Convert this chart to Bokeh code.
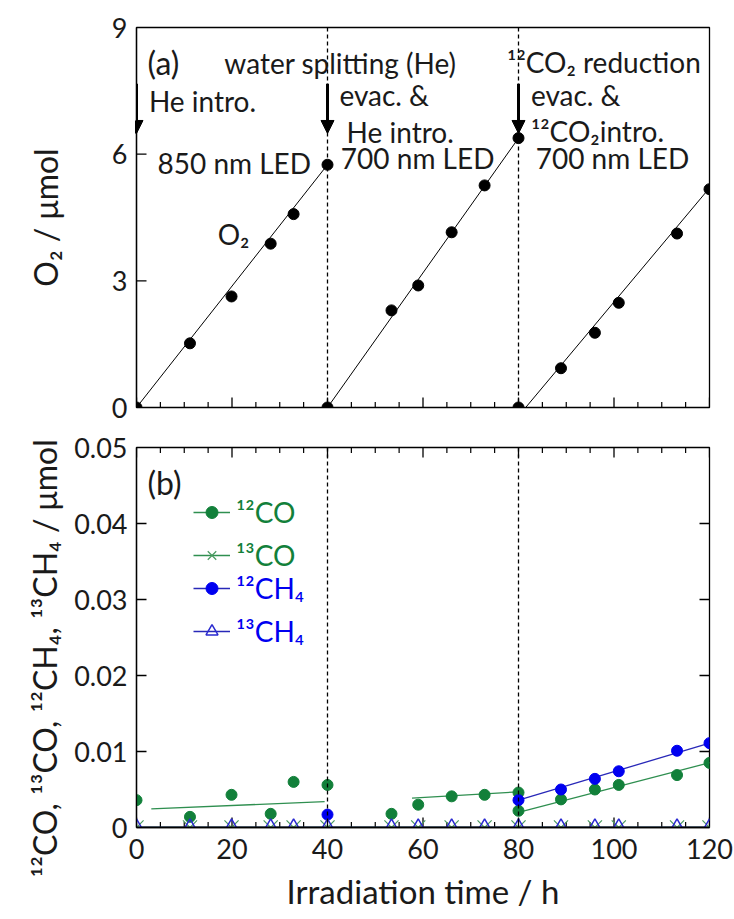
import math
from bokeh.plotting import figure
from bokeh.layouts import column
from bokeh.models import (Range1d, Span, Arrow, NormalHead, Label, Legend,
                          LegendItem, FixedTicker, Title)
from bokeh.embed import file_html
from bokeh.resources import INLINE

FONT = "Lato"
TXT = "#1a1a1a"
GREEN = "#12803a"
GREEN_LINE = "#2f8f50"
GREEN_LIGHT = "#4a9a60"
BLUE = "#0000f0"
BLUE_LINE = "#2828b8"
BLUE_TRI = "#2a2ad0"

# ---------------- data ----------------
# (a) O2 evolution, three runs
o2_time_1 = [0.0, 11.2, 19.9, 28.1, 32.9, 40.0]
o2_vals_1 = [0.0, 1.52, 2.63, 3.88, 4.58, 5.75]
o2_time_2 = [40.0, 53.4, 59.0, 66.0, 72.9, 80.0]
o2_vals_2 = [0.0, 2.30, 2.89, 4.15, 5.26, 6.38]
o2_time_3 = [80.0, 88.9, 96.0, 101.0, 113.2, 120.0]
o2_vals_3 = [0.0, 0.93, 1.77, 2.48, 4.12, 5.17]
o2_fit_time = [[0.0, 40.0], [40.0, 80.0], [81.5, 120.0]]
o2_fit_vals = [[0.0, 5.75], [0.0, 6.38], [0.0, 5.20]]

event_times = [0.0, 40.0, 80.0]
divider_times = [40.0, 80.0]

# (b) products
sample_times = [0.0, 11.2, 19.9, 28.1, 32.9, 40.0, 53.4, 59.0, 66.0, 72.9,
                80.0, 88.9, 96.0, 101.0, 113.2, 120.0]
co12_time = [0.0, 11.2, 19.9, 28.1, 32.9, 40.0, 53.4, 59.0, 66.0, 72.9,
             80.0, 80.0, 88.9, 96.0, 101.0, 113.2, 120.0]
co12_vals = [0.0036, 0.0014, 0.0043, 0.0018, 0.0060, 0.0056, 0.0018, 0.0030,
             0.0041, 0.0043, 0.0046, 0.0022, 0.0037, 0.0050, 0.0056, 0.0069,
             0.0085]
co13_vals = [0.0, 0.0, 0.0, 0.0, 0.0, 0.0, 0.0, 0.0, 0.0, 0.0, 0.0, 0.0, 0.0,
             0.0, 0.0, 0.0]
ch4_12_time = [40.0, 80.0, 88.9, 96.0, 101.0, 113.2, 120.0]
ch4_12_vals = [0.0017, 0.0036, 0.0050, 0.0064, 0.0074, 0.0101, 0.0111]
ch4_13_vals = [0.0, 0.0, 0.0, 0.0, 0.0, 0.0, 0.0, 0.0, 0.0, 0.0, 0.0, 0.0,
               0.0, 0.0, 0.0, 0.0]
co12_fit_time = [[3.1, 39.4], [57.7, 80.0], [80.0, 121.7]]
co12_fit_vals = [[0.00246, 0.0034], [0.00386, 0.0047], [0.0020, 0.0088]]
ch4_12_fit_time = [80.0, 120.0]
ch4_12_fit_vals = [0.0036, 0.0111]

x_ticks = [0, 20, 40, 60, 80, 100, 120]
x_minor_ticks = [5, 10, 15, 25, 30, 35, 45, 50, 55, 65, 70, 75, 85, 90, 95,
                 105, 110, 115]
o2_ticks = [0, 3, 6, 9]
prod_ticks = [0, 0.01, 0.02, 0.03, 0.04, 0.05]
prod_tick_labels = ["0", "0.01", "0.02", "0.03", "0.04", "0.05"]

X0, X1 = 0, 120


def style_axis(ax, ticks):
    ax.ticker = FixedTicker(ticks=ticks, minor_ticks=[])
    ax.axis_line_color = "black"
    ax.axis_line_width = 1.3
    ax.major_tick_line_color = None
    ax.minor_tick_line_color = None
    ax.major_tick_in = 0
    ax.major_tick_out = 0
    ax.minor_tick_in = 0
    ax.minor_tick_out = 0
    ax.major_label_text_font = FONT
    ax.major_label_text_color = TXT
    ax.major_label_text_font_size = "27px"
    ax.major_label_standoff = 9
    ax.axis_label_text_font = FONT
    ax.axis_label_text_font_style = "normal"
    ax.axis_label_text_color = TXT
    ax.axis_label_text_font_size = "32px"


def base_fig(y0, y1, top, bottom):
    p = figure(frame_width=573, frame_height=380,
               x_range=Range1d(X0, X1), y_range=Range1d(y0, y1),
               output_backend="svg", toolbar_location=None,
               min_border_left=136, min_border_right=25,
               min_border_top=top, min_border_bottom=bottom)
    p.grid.visible = False
    p.outline_line_color = "black"
    p.outline_line_width = 1.3
    p.background_fill_color = "white"
    p.border_fill_color = "white"
    return p


def inward_ticks(p, xs_major, xs_minor, y_edge, ys_major, x_edge):
    # tick marks centred on a frame edge; the outer half is clipped away
    if xs_major:
        p.scatter(xs_major, [y_edge] * len(xs_major), marker="dash",
                  angle=math.pi / 2, size=20, line_color="black",
                  line_width=1.3)
    if xs_minor:
        p.scatter(xs_minor, [y_edge] * len(xs_minor), marker="dash",
                  angle=math.pi / 2, size=11, line_color="black",
                  line_width=1.2)
    if ys_major:
        p.scatter([x_edge] * len(ys_major), ys_major, marker="dash",
                  size=20, line_color="black", line_width=1.3)


# ---------------- panel (a) ----------------
p1 = base_fig(0, 9, 27, 20)
p1.xaxis.visible = False
style_axis(p1.yaxis[0], o2_ticks)
p1.yaxis[0].axis_label = "O₂ / μmol"
p1.yaxis[0].axis_label_standoff = 44

inward_ticks(p1, x_ticks, x_minor_ticks, 0, o2_ticks[1:-1], X0)

for t in divider_times:
    p1.add_layout(Span(location=t, dimension="height", line_color="black",
                       line_dash="4 3", line_width=1.3))

p1.multi_line(o2_fit_time, o2_fit_vals, line_color="black", line_width=1)
for tt, vv in [(o2_time_1, o2_vals_1), (o2_time_2, o2_vals_2),
               (o2_time_3, o2_vals_3)]:
    p1.scatter(tt, vv, marker="circle", size=11, color="black")

for t in event_times:
    p1.add_layout(Arrow(end=NormalHead(size=13, fill_color="black",
                                       line_color="black"),
                        x_start=t, y_start=7.67, x_end=t, y_end=6.49,
                        line_width=3, line_color="black"))


def add_text(p, x, y, text, size="28px", color=TXT):
    p.add_layout(Label(x=x, y=y, text=text, text_font=FONT,
                       text_font_size=size, text_color=color,
                       text_align="left", text_baseline="middle"))


add_text(p1, 2.3, 8.17, "(a)", size="32px")
add_text(p1, 18.4, 8.17, "water splitting (He)")
add_text(p1, 2.6, 7.27, "He intro.")
add_text(p1, 4.4, 5.80, "850 nm LED")
add_text(p1, 17.0, 4.12, "O₂")
add_text(p1, 42.5, 7.39, "evac. &")
add_text(p1, 44.0, 6.52, "He intro.")
add_text(p1, 42.8, 5.90, "700 nm LED")
add_text(p1, 77.6, 8.19, "¹²CO₂ reduction")
add_text(p1, 82.6, 7.39, "evac. &")
add_text(p1, 82.6, 6.56, "¹²CO₂intro.")
add_text(p1, 83.6, 5.90, "700 nm LED")

# ---------------- panel (b) ----------------
p2 = base_fig(0, 0.05, 20, 92)
style_axis(p2.xaxis[0], x_ticks)
style_axis(p2.yaxis[0], prod_ticks)
p2.yaxis[0].major_label_overrides = dict(zip(prod_ticks, prod_tick_labels))
p2.xaxis[0].axis_label = "Irradiation time / h"
p2.xaxis[0].axis_label_text_font_size = "33px"
p2.xaxis[0].axis_label_standoff = 9
p2.xaxis[0].major_label_standoff = 11

# y-axis title as a side title, anchored near the bottom of the frame
p2.add_layout(Title(text="¹²CO, ¹³CO, ¹²CH₄, ¹³CH₄ / μmol", align="left",
                    offset=-50, standoff=16, text_font=FONT,
                    text_font_size="32px", text_font_style="normal",
                    text_color=TXT), "left")

inward_ticks(p2, x_ticks, x_minor_ticks, 0, prod_ticks[1:-1], X0)
inward_ticks(p2, x_ticks, x_minor_ticks, 0.05, prod_ticks[1:-1], X1)

for t in divider_times:
    p2.add_layout(Span(location=t, dimension="height", line_color="black",
                       line_dash="4 3", line_width=1.3))

r_co13_line = p2.line(sample_times, co13_vals, line_color=GREEN_LINE,
                      line_width=1.3)
r_ch413_line = p2.line(sample_times, ch4_13_vals, line_color=BLUE_LINE,
                       line_width=1.3)
r_co_fit = p2.multi_line(co12_fit_time, co12_fit_vals, line_color=GREEN_LINE,
                         line_width=1.3)
r_ch4_fit = p2.line(ch4_12_fit_time, ch4_12_fit_vals, line_color=BLUE_LINE,
                    line_width=1.3)

r_co13 = p2.scatter(sample_times, co13_vals, marker="x", size=20,
                    line_color=GREEN_LIGHT, line_width=1.2)
r_co12 = p2.scatter(co12_time, co12_vals, marker="circle", size=11,
                    color=GREEN)
r_ch412 = p2.scatter(ch4_12_time, ch4_12_vals, marker="circle", size=11,
                     color=BLUE)
r_ch413 = p2.scatter(sample_times, ch4_13_vals, marker="triangle", size=15,
                     line_color=BLUE_TRI, fill_color=None, line_width=1.5)

# redraw bottom frame line above the zero-level lines
p2.add_layout(Span(location=0, dimension="width", line_color="black",
                   line_width=1.3))

add_text(p2, 2.3, 0.0454, "(b)", size="32px")


def make_legend(items, loc, color):
    leg = Legend(items=items, location=loc, padding=0, margin=0,
                 border_line_color=None, background_fill_alpha=0,
                 glyph_width=37, glyph_height=30, label_height=30,
                 spacing=9, label_standoff=6, label_text_font=FONT,
                 label_text_font_size="28px", label_text_color=color)
    return leg


leg1 = make_legend([LegendItem(label="¹²CO", renderers=[r_co_fit, r_co12]),
                    LegendItem(label="¹³CO", renderers=[r_co13_line, r_co13])],
                   (57, 255), GREEN)
leg2 = make_legend([LegendItem(label="¹²CH₄", renderers=[r_ch4_fit, r_ch412]),
                    LegendItem(label="¹³CH₄", renderers=[r_ch413_line, r_ch413])],
                   (57, 179), BLUE)
p2.add_layout(leg1)
p2.add_layout(leg2)

layout = column(p1, p2, spacing=0)
open("out.html", "w").write(file_html(layout, INLINE))
